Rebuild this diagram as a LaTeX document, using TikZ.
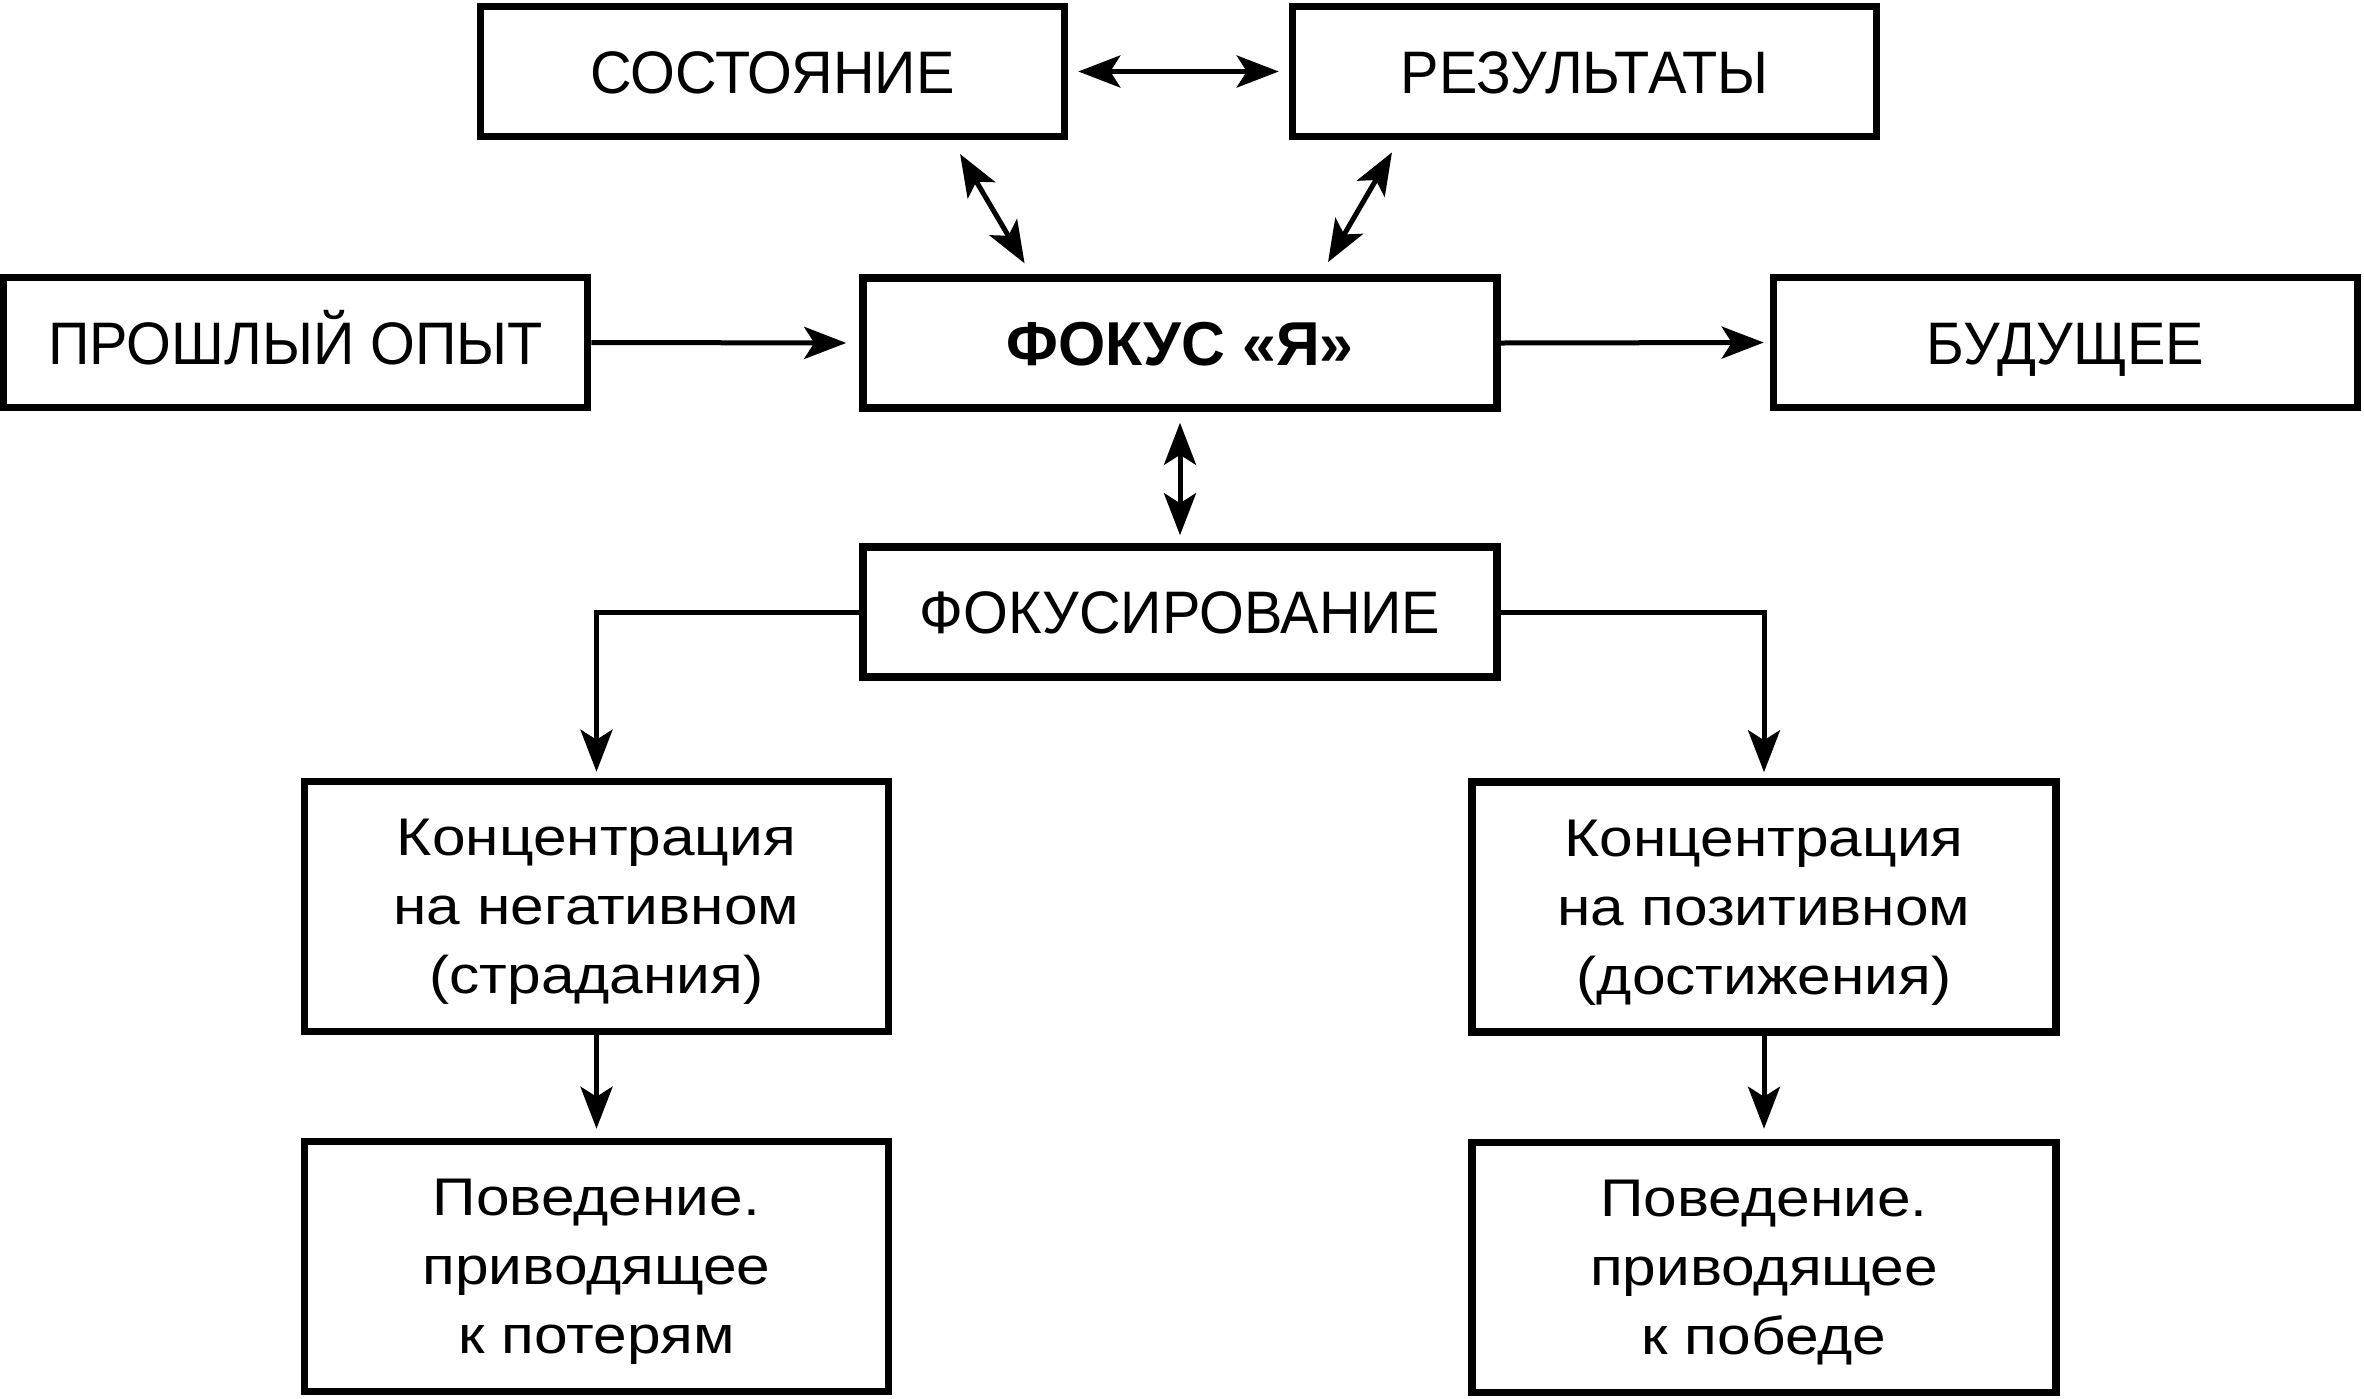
\documentclass[tikz,border=0pt]{standalone}
\usepackage{fontspec}
\setmainfont{Liberation Sans}
\newfontfamily\capsfont[FakeStretch=0.96]{Liberation Sans}
\newfontfamily\boldcapsfont[FakeStretch=0.98]{Liberation Sans Bold}
\newfontfamily\lowfont[FakeStretch=1.14]{Liberation Sans}
\usetikzlibrary{arrows.meta}
\tikzset{
  box/.style={draw=black, line width=3.8pt, rectangle, inner sep=0pt, align=center},
  capstext/.style={text height=21.5pt, text depth=0pt},
  topbox/.style={box, capstext, minimum width=292pt, minimum height=65pt, font=\capsfont\fontsize{30pt}{36pt}\selectfont},
  midbox/.style={box, capstext, minimum width=317pt, minimum height=65pt, font=\capsfont\fontsize{30pt}{36pt}\selectfont},
  lowbox/.style={box, text depth=0pt, minimum width=292pt, minimum height=125pt, font=\lowfont\fontsize{26.5pt}{34.5pt}\selectfont},
  conn/.style={line width=2.5pt, draw=black},
  tip/.tip={Stealth[length=21pt, width=16pt, inset=5pt]},
}
\begin{document}
\begin{tikzpicture}[x=0.5pt, y=-0.5pt]
\useasboundingbox (0,0) rectangle (2364,1398);
\node[topbox] (A) at (772.5,71.5) {СОСТОЯНИЕ};
\node[topbox] (B) at (1584.5,71.5) {РЕЗУЛЬТАТЫ};
\node[topbox] (C) at (295.5,342.5) {ПРОШЛЫЙ ОПЫТ};
\node[midbox, font=\boldcapsfont\fontsize{31pt}{36pt}\selectfont, text height=22.2pt] (D) at (1180,343) {ФОКУС «Я»};
\node[topbox] (E) at (2065.5,342.5) {БУДУЩЕЕ};
\node[midbox] (F) at (1180,612) {ФОКУСИРОВАНИЕ};
\node[lowbox] (G) at (596.5,906.5) {Концентрация\\на негативном\\(страдания)};
\node[lowbox] (H) at (1764,907) {Концентрация\\на позитивном\\(достижения)};
\node[lowbox] (I) at (596.5,1266.5) {Поведение.\\приводящее\\к потерям};
\node[lowbox] (J) at (1764,1267.5) {Поведение.\\приводящее\\к победе};

\draw[conn, {tip}-{tip}, shorten <=5pt, shorten >=5pt] (A.east) -- (B.west);
\draw[conn, {tip}-{tip}, shorten <=8pt, shorten >=6.3pt] ([xshift=89.75pt]A.south) -- ([xshift=-74.5pt]D.north);
\draw[conn, {tip}-{tip}, shorten <=7pt, shorten >=7pt] ([xshift=-92.75pt]B.south) -- ([xshift=70.5pt]D.north);
\draw[conn, -{tip}, shorten >=6.5pt] (C.east) -- (D.west);
\draw[conn, -{tip}, shorten >=3pt] (D.east) -- (E.west);
\draw[conn, {tip}-{tip}, shorten <=5.5pt, shorten >=4pt] (D.south) -- (F.north);
\draw[conn, -{tip}, shorten >=3pt] (F.west) -| (G.north);
\draw[conn, -{tip}, shorten >=3pt] (F.east) -| (H.north);
\draw[conn, -{tip}, shorten >=4.5pt] (G.south) -- (I.north);
\draw[conn, -{tip}, shorten >=5pt] (H.south) -- (J.north);
\end{tikzpicture}
\end{document}
